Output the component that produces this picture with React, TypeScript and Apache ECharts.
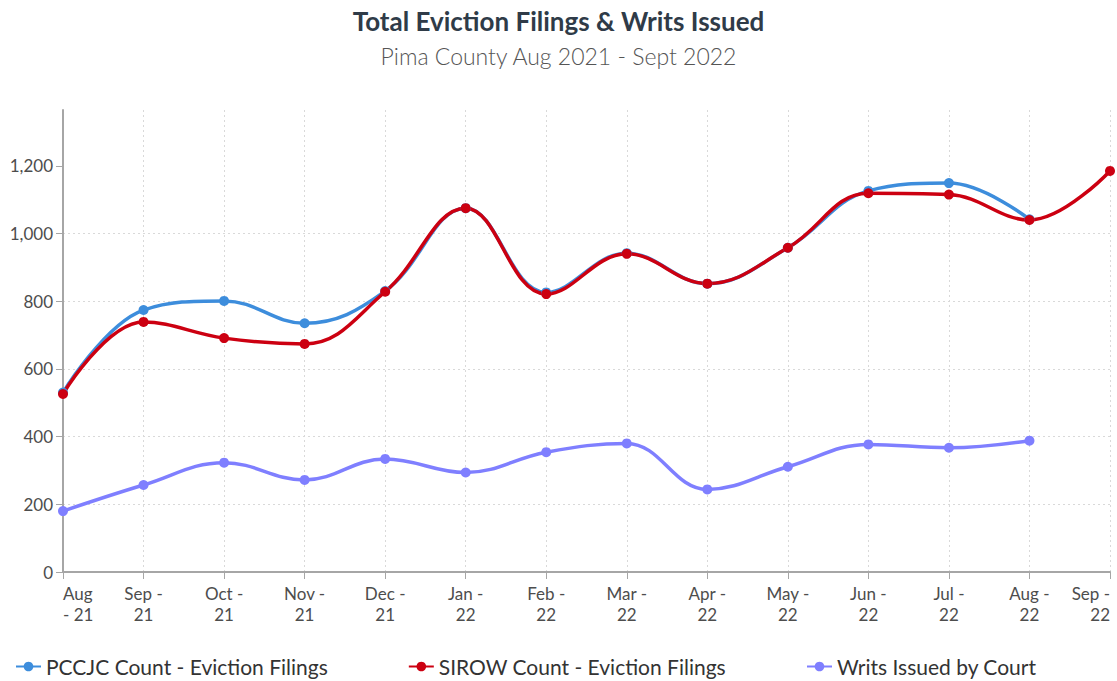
import React, { useEffect, useRef } from "react";
import * as echarts from "echarts";

const categories = [
  "Aug - 21", "Sep - 21", "Oct - 21", "Nov - 21", "Dec - 21", "Jan - 22", "Feb - 22",
  "Mar - 22", "Apr - 22", "May - 22", "Jun - 22", "Jul - 22", "Aug - 22", "Sep - 22",
];
const pccjc = [530, 774, 801, 735, 830, 1075, 826, 942, 852, 958, 1126, 1149, 1042, null];
const sirow = [526, 739, 691, 674, 828, 1075, 821, 940, 852, 958, 1119, 1115, 1040, 1185];
const writs = [180, 257, 323, 272, 334, 294, 354, 380, 244, 311, 377, 367, 388, null];
const yTicks = [0, 200, 400, 600, 800, 1000, 1200];

const FONT = "Lato, 'Open Sans', sans-serif";

export default function App() {
  const ref = useRef<HTMLDivElement>(null);
  useEffect(() => {
    if (!ref.current) return;
    const chart = echarts.init(ref.current, null, { renderer: "svg" });
    chart.setOption({
      animation: false,
      backgroundColor: "#ffffff",
      title: {
        text: "Total Eviction Filings & Writs Issued",
        subtext: "Pima County Aug 2021 - Sept 2022",
        left: "center",
        top: 3,
        itemGap: 10,
        textStyle: { fontFamily: FONT, fontSize: 26, fontWeight: "bold", color: "#2f3b48" },
        subtextStyle: { fontFamily: FONT, fontSize: 23, fontWeight: 300, color: "#555555" },
      },
      legend: {
        top: 651,
        left: 10,
        itemGap: 80,
        itemWidth: 25,
        itemHeight: 12,
        textStyle: { fontFamily: FONT, fontSize: 21, color: "#333333" },
        data: ["PCCJC Count - Eviction Filings", "SIROW Count - Eviction Filings", "Writs Issued by Court"],
      },
      grid: { left: 63, right: 7, top: 110, bottom: 109, containLabel: false },
      xAxis: {
        type: "category",
        data: categories,
        boundaryGap: false,
        axisLine: { lineStyle: { color: "#a6a6a6", width: 2 } },
        axisTick: { show: true, length: 7, lineStyle: { color: "#a6a6a6" } },
        splitLine: { show: true, lineStyle: { color: "#d9d9d9", type: [2, 3] } },
        axisLabel: {
          interval: 0,
          margin: 11,
          fontFamily: FONT,
          fontSize: 17,
          lineHeight: 21,
          color: "#4d4d4d",
          alignMinLabel: "left",
          alignMaxLabel: "right",
          formatter: (v: string, i: number) =>
            i === 0 ? v.replace(" - ", "\n- ") : v.replace(" - ", " -\n"),
        },
      },
      yAxis: {
        type: "value",
        min: 0,
        max: 1365,
        interval: 200,
        axisLine: { show: true, lineStyle: { color: "#a6a6a6", width: 2 } },
        axisTick: { show: true, length: 7, lineStyle: { color: "#a6a6a6" }, customValues: yTicks },
        splitLine: { show: true, showMaxLine: false, lineStyle: { color: "#d9d9d9", type: [2, 3] } },
        axisLabel: {
          margin: 10,
          fontFamily: FONT,
          fontSize: 17,
          color: "#4d4d4d",
          customValues: yTicks,
          formatter: (v: number) => v.toLocaleString("en-US"),
        },
      },
      series: [
        {
          name: "PCCJC Count - Eviction Filings",
          type: "line",
          data: pccjc,
          smooth: 0.4,
          symbol: "circle",
          symbolSize: 10,
          color: "#3d8ddc",
          lineStyle: { width: 3.5, color: "#3d8ddc" },
          itemStyle: { color: "#3d8ddc" },
        },
        {
          name: "SIROW Count - Eviction Filings",
          type: "line",
          data: sirow,
          smooth: 0.4,
          symbol: "circle",
          symbolSize: 10,
          color: "#cc0011",
          lineStyle: { width: 3.5, color: "#cc0011" },
          itemStyle: { color: "#cc0011" },
        },
        {
          name: "Writs Issued by Court",
          type: "line",
          data: writs,
          smooth: 0.4,
          symbol: "circle",
          symbolSize: 10,
          color: "#7f7fff",
          lineStyle: { width: 3.5, color: "#7f7fff" },
          itemStyle: { color: "#7f7fff" },
        },
      ],
    });
    return () => chart.dispose();
  }, []);
  return <div ref={ref} style={{ width: 1117, height: 681, position: "absolute", left: 0, top: 0 }} />;
}
